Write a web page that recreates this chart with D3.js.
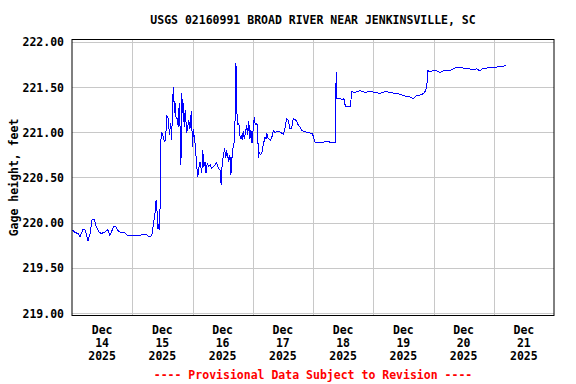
<!DOCTYPE html>
<html>
<head>
<meta charset="utf-8">
<script src="https://cdn.jsdelivr.net/npm/d3@7"></script>
<style>
  body { margin: 0; background: #fff; }
  text { font-family: "DejaVu Sans Mono", "Liberation Mono", monospace; font-weight: bold; }
</style>
</head>
<body>
<div id="chart"></div>
<script>
// Gage height, hours after Dec 14 2025 00:00
const hours = [
  0.2, 1.2, 2.4, 3.2, 4.4, 5.2, 6.4, 7.2, 8.0, 9.0, 9.6, 10.6, 11.6, 12.7, 14.3, 15.1, 15.9, 16.7, 17.5, 18.3,
  19.5, 20.7, 21.9, 25.1, 27.1, 27.9, 29.9, 30.7, 31.5, 31.9, 32.3, 33.1, 33.5, 33.9, 34.1, 34.4, 34.7, 35.0,
  35.3, 35.7, 36.4, 36.8, 37.3, 37.7, 38.4, 38.8, 39.3, 39.7, 40.1, 40.4, 40.8, 41.0, 41.4, 41.9, 42.3, 42.7,
  43.0, 43.4, 43.7, 44.1, 44.3, 44.7, 45.1, 45.7, 46.1, 46.5, 47.0, 47.5, 47.8, 48.1, 48.3, 48.7, 49.1, 49.7,
  50.1, 50.5, 51.0, 51.7, 52.1, 52.5, 53.0, 53.4, 53.9, 54.4, 55.0, 55.6, 56.3, 57.0, 57.6, 58.3, 59.0, 59.4,
  59.7, 60.3, 60.8, 61.2, 61.6, 62.0, 62.4, 62.9, 63.3, 63.7, 64.3, 64.7, 64.9, 65.3, 65.6, 65.8, 66.2, 66.6,
  67.0, 67.4, 67.8, 68.2, 68.6, 69.2, 69.6, 70.0, 70.4, 70.9, 71.3, 71.7, 72.2, 72.6, 73.0, 73.6, 74.0, 74.2,
  74.6, 75.2, 75.7, 76.2, 76.9, 77.3, 77.5, 78.2, 78.9, 79.5, 80.2, 80.9, 81.5, 82.2, 82.9, 83.5, 84.2, 84.8,
  85.5, 86.2, 86.8, 87.5, 88.1, 88.8, 89.5, 90.1, 90.8, 91.5, 92.1, 93.5, 94.8, 95.5, 96.1, 96.8, 97.5, 98.8,
  100.1, 101.4, 102.8, 104.1, 104.8, 105.0, 105.2, 105.3, 105.4, 106.8, 108.1, 108.3, 108.7, 109.1, 111.0, 111.3,
  112.7, 114.7, 116.7, 118.7, 120.7, 122.7, 124.7, 126.7, 128.7, 130.7, 132.6, 134.6, 135.8, 137.0, 138.6, 140.2,
  141.0, 141.4, 141.8, 142.6, 143.9, 145.3, 146.6, 147.9, 149.3, 150.6, 151.9, 153.2, 154.6, 155.9, 157.2, 158.5,
  159.9, 161.2, 162.5, 163.8, 165.2, 166.5, 167.8, 169.2, 170.5, 171.8, 172.9
];
const gage = [
  219.92, 219.89, 219.88, 219.84, 219.93, 219.92, 219.80, 219.88, 220.03, 220.03, 219.96, 219.90, 219.88, 219.89, 219.92, 219.86, 219.91, 219.96, 219.95, 219.91,
  219.89, 219.895, 219.86, 219.86, 219.86, 219.865, 219.865, 219.84, 219.85, 219.88, 219.96, 220.11, 220.25, 220.12, 219.93, 219.98, 219.92, 219.96,
  220.88, 221.00, 220.95, 220.90, 220.91, 221.19, 221.15, 220.97, 221.10, 220.91, 221.36, 221.50, 221.21, 221.34, 221.17, 221.15, 221.06, 221.32,
  221.10, 220.64, 221.43, 221.21, 221.32, 221.06, 221.25, 220.99, 221.06, 221.13, 221.04, 221.23, 221.02, 220.84, 221.04, 220.95, 220.86, 220.62,
  220.51, 220.60, 220.67, 220.55, 220.80, 220.62, 220.67, 220.55, 220.66, 220.62, 220.64, 220.60, 220.62, 220.64, 220.66, 220.60, 220.58, 220.42,
  220.60, 220.75, 220.82, 220.71, 220.78, 220.75, 220.67, 220.75, 220.53, 220.71, 220.86, 220.90, 221.06, 221.76, 221.45, 221.08, 221.10, 221.08,
  220.93, 220.97, 220.91, 221.01, 220.93, 221.01, 221.08, 220.97, 221.12, 220.93, 221.02, 220.88, 221.04, 221.17, 221.08, 221.10, 221.04, 220.71,
  220.77, 220.75, 220.78, 220.86, 220.95, 220.93, 220.99, 220.93, 220.91, 220.93, 221.02, 220.99, 221.01, 221.01, 221.00, 220.99, 220.98, 221.04,
  221.15, 221.13, 221.04, 221.04, 221.15, 221.14, 221.12, 221.08, 221.06, 221.02, 221.01, 221.00, 220.99, 220.99, 220.96, 220.89, 220.88, 220.89,
  220.89, 220.90, 220.89, 220.89, 220.88, 220.91, 221.67, 221.47, 221.37, 221.37, 221.36, 221.37, 221.31, 221.28, 221.28, 221.45,
  221.44, 221.46, 221.44, 221.45, 221.44, 221.43, 221.45, 221.44, 221.43, 221.42, 221.40, 221.39, 221.37, 221.40, 221.41, 221.43,
  221.47, 221.54, 221.68, 221.67, 221.68, 221.68, 221.66, 221.68, 221.68, 221.685, 221.70, 221.72, 221.72, 221.71, 221.71, 221.70,
  221.69, 221.70, 221.68, 221.71, 221.71, 221.72, 221.72, 221.72, 221.73, 221.73, 221.74
];
const yTicks = [219.0, 219.5, 220.0, 220.5, 221.0, 221.5, 222.0];
const dayLabels = ["14", "15", "16", "17", "18", "19", "20", "21"];

const width = 576, height = 384;
const plot = { left: 72, right: 554, top: 39.5, bottom: 315.5 };
const t0 = Date.UTC(2025, 11, 14);
const HOUR = 3600 * 1000;

const x = d3.scaleUtc()
    .domain([new Date(t0), new Date(t0 + 8 * 24 * HOUR)])
    .range([plot.left, plot.right]);

const y = d3.scaleLinear()
    .domain([219, 222])
    .range([313, 41.8]);

const data = hours.map((h, i) => ({ date: new Date(t0 + h * HOUR), value: gage[i] }));

const svg = d3.select("#chart").append("svg")
    .attr("width", width)
    .attr("height", height)
    .style("display", "block");

// grid
svg.append("g")
    .selectAll("line")
    .data(yTicks)
    .join("line")
    .attr("x1", plot.left).attr("x2", plot.right)
    .attr("y1", d => Math.round(y(d)) + 0.5).attr("y2", d => Math.round(y(d)) + 0.5)
    .attr("stroke", "#c8c8c8");

svg.append("g")
    .selectAll("line")
    .data(d3.utcDay.range(new Date(t0 + 24 * HOUR), new Date(t0 + 8 * 24 * HOUR)))
    .join("line")
    .attr("x1", d => Math.round(x(d)) + 0.5).attr("x2", d => Math.round(x(d)) + 0.5)
    .attr("y1", plot.top).attr("y2", plot.bottom)
    .attr("stroke", "#c8c8c8");

// data line
svg.append("path")
    .datum(data)
    .attr("fill", "none")
    .attr("stroke", "#0000ff")
    .attr("stroke-width", 1)
    .attr("shape-rendering", "crispEdges")
    .attr("d", d3.line().x(d => x(d.date)).y(d => y(d.value)));

// frame
svg.append("rect")
    .attr("x", plot.left).attr("y", plot.top)
    .attr("width", plot.right - plot.left).attr("height", plot.bottom - plot.top)
    .attr("fill", "none")
    .attr("stroke", "#000");

// y tick labels
svg.append("g")
    .selectAll("text")
    .data(yTicks)
    .join("text")
    .attr("x", 64)
    .attr("y", d => y(d) + 4.5)
    .attr("text-anchor", "end")
    .style("font-size", "11.5px")
    .text(d => d.toFixed(2));

// x tick labels at noon of each day
const xl = svg.append("g")
    .selectAll("text")
    .data(dayLabels)
    .join("text")
    .attr("text-anchor", "middle")
    .style("font-size", "11.5px");
[["Dec", 334], [null, 347], ["2025", 360]].forEach(([txt, yy]) => {
    xl.append("tspan")
        .attr("x", (d, i) => x(new Date(t0 + (i * 24 + 12) * HOUR)))
        .attr("y", yy)
        .text(d => txt === null ? d : txt);
});

svg.append("text")
    .attr("x", (plot.left + plot.right) / 2)
    .attr("y", 24)
    .attr("text-anchor", "middle")
    .style("font-size", "11.5px")
    .text("USGS 02160991 BROAD RIVER NEAR JENKINSVILLE, SC");

svg.append("text")
    .attr("transform", `translate(18,${(plot.top + plot.bottom) / 2}) rotate(-90)`)
    .attr("text-anchor", "middle")
    .style("font-size", "11.5px")
    .text("Gage height, feet");

svg.append("text")
    .attr("x", (plot.left + plot.right) / 2)
    .attr("y", 379)
    .attr("text-anchor", "middle")
    .attr("fill", "#ff0000")
    .style("font-size", "11.5px")
    .text("---- Provisional Data Subject to Revision ----");
</script>
</body>
</html>
